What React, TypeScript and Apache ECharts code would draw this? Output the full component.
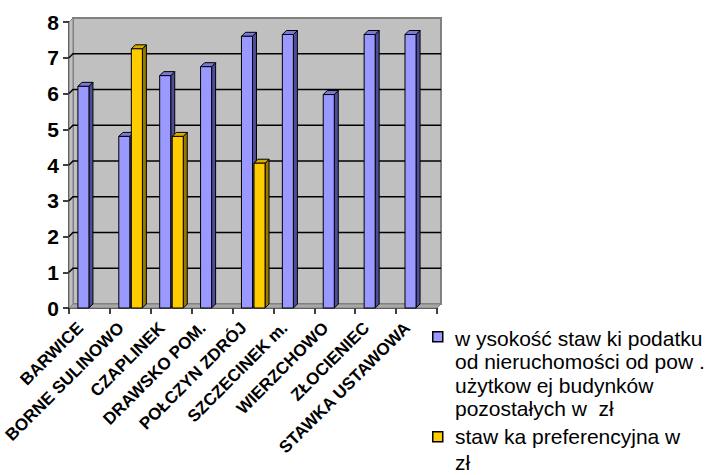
import React, { useEffect, useRef } from "react";
import * as echarts from "echarts";

const categories = [
  "BARWICE",
  "BORNE SULINOWO",
  "CZAPLINEK",
  "DRAWSKO POM.",
  "POŁCZYN ZDRÓJ",
  "SZCZECINEK m.",
  "WIERZCHOWO",
  "ZŁOCIENIEC",
  "STAWKA USTAWOWA",
];
const rateValues = [6.2, 4.8, 6.5, 6.75, 7.6, 7.65, 5.97, 7.65, 7.65];
const preferentialValues: (number | null)[] = [null, 7.25, 4.8, null, 4.05, null, null, null, null];
const yTicks = [0, 1, 2, 3, 4, 5, 6, 7, 8];
const legendRateLines = [
  "w ysokość staw ki podatku",
  "od nieruchomości od pow .",
  "użytkow ej budynków",
  "pozostałych w  zł",
];
const legendPrefLines = ["staw ka preferencyjna w", "zł"];

const DEPTH = 4;

function barRenderer(front: string, side: string, top: string, slot: number) {
  return (params: any, api: any) => {
    const idx = api.value(0);
    const v = api.value(1);
    const base = api.coord([idx, 0]);
    const tp = api.coord([idx, v]);
    const band = api.size([1, 0])[0];
    const bw = band * 0.27;
    const x0 = slot === 0 ? base[0] - bw - 0.5 : base[0] + 1;
    const yT = tp[1];
    const yB = base[1];
    const d = DEPTH;
    return {
      type: "group",
      children: [
        {
          type: "polygon",
          shape: { points: [[x0 + bw, yT], [x0 + bw + d, yT - d], [x0 + bw + d, yB - d], [x0 + bw, yB]] },
          style: { fill: side, stroke: "#000", lineWidth: 1 },
        },
        {
          type: "polygon",
          shape: { points: [[x0, yT], [x0 + d, yT - d], [x0 + bw + d, yT - d], [x0 + bw, yT]] },
          style: { fill: top, stroke: "#000", lineWidth: 1 },
        },
        {
          type: "rect",
          shape: { x: x0, y: yT, width: bw, height: yB - yT },
          style: { fill: front, stroke: "#000", lineWidth: 1 },
        },
      ],
    };
  };
}

function frameRenderer(params: any, api: any) {
  const band = api.size([1, 0])[0];
  const left = api.coord([0, 0])[0] - band / 2;
  const right = api.coord([categories.length - 1, 0])[0] + band / 2;
  const y0 = api.coord([0, yTicks[0]])[1];
  const yMax = api.coord([0, yTicks[yTicks.length - 1]])[1];
  const d = DEPTH;
  const children: any[] = [
    {
      type: "rect",
      shape: { x: left + d, y: yMax - d, width: right - left, height: y0 - yMax },
      style: { fill: "#c0c0c0", stroke: "#808080", lineWidth: 2 },
    },
    {
      type: "polygon",
      shape: { points: [[left, yMax], [left + d, yMax - d], [left + d, y0 - d], [left, y0]] },
      style: { fill: "#c0c0c0", stroke: "#808080", lineWidth: 1 },
    },
    {
      type: "polygon",
      shape: { points: [[left, y0], [left + d, y0 - d], [right + d, y0 - d], [right, y0]] },
      style: { fill: "#a8a8a8", stroke: "#808080", lineWidth: 1 },
    },
  ];
  yTicks.slice(1, yTicks.length - 1).forEach((t) => {
    const y = api.coord([0, t])[1];
    children.push({
      type: "polyline",
      shape: { points: [[left, y], [left + d, y - d], [right + d, y - d]] },
      style: { stroke: "#000", lineWidth: 1.5, fill: null },
    });
  });
  return { type: "group", children };
}

export default function App() {
  const ref = useRef<HTMLDivElement>(null);
  useEffect(() => {
    if (!ref.current) return;
    const chart = echarts.init(ref.current, null, { renderer: "svg" });
    const font = '"Liberation Sans", Arial, sans-serif';
    const rateData = rateValues.map((v, i) => [i, v]);
    const prefData = preferentialValues
      .map((v, i) => (v == null ? null : [i, v]))
      .filter((x) => x !== null);
    chart.setOption({
      animation: false,
      backgroundColor: "#ffffff",
      grid: { left: 69, right: 273, top: 22, bottom: 167, containLabel: false },
      xAxis: {
        type: "category",
        data: categories,
        boundaryGap: true,
        axisLine: { show: true, lineStyle: { color: "#000", width: 1.5 } },
        axisTick: { show: true, length: 6, lineStyle: { color: "#000", width: 1.5 } },
        axisLabel: {
          interval: 0,
          rotate: 45,
          margin: 8,
          padding: [0, 13, 0, 0],
          fontFamily: font,
          fontWeight: "bold",
          fontSize: 17,
          color: "#000",
        },
        splitLine: { show: false },
      },
      yAxis: {
        type: "value",
        min: 0,
        max: 8,
        interval: 1,
        axisLine: { show: true, lineStyle: { color: "#000", width: 1.5 } },
        axisTick: { show: true, length: 6, lineStyle: { color: "#000", width: 1.5 } },
        axisLabel: {
          margin: 10,
          fontFamily: font,
          fontWeight: "bold",
          fontSize: 21,
          color: "#000",
        },
        splitLine: { show: false },
      },
      series: [
        {
          type: "custom",
          name: "frame",
          renderItem: frameRenderer,
          data: [[0, 0]],
          encode: { x: 0, y: 1 },
          silent: true,
          z: 1,
        },
        {
          type: "custom",
          name: legendRateLines.join(" "),
          renderItem: barRenderer("#9999ff", "#4d4d99", "#7a7ad6", 0),
          data: rateData,
          encode: { x: 0, y: 1 },
          z: 2,
        },
        {
          type: "custom",
          name: legendPrefLines.join(" "),
          renderItem: barRenderer("#ffcc00", "#997a00", "#d9ad00", 1),
          data: prefData,
          encode: { x: 0, y: 1 },
          z: 2,
        },
      ],
      graphic: [
        {
          type: "rect",
          left: 432,
          top: 331,
          shape: { width: 10, height: 10 },
          style: { fill: "#9999ff", stroke: "#000", lineWidth: 1.5 },
        },
        {
          type: "text",
          left: 455,
          top: 327,
          style: {
            text: legendRateLines.join("\n"),
            font: `21px ${font}`,
            lineHeight: 23.3,
            fill: "#000",
          },
        },
        {
          type: "rect",
          left: 432,
          top: 431,
          shape: { width: 10, height: 10 },
          style: { fill: "#ffcc00", stroke: "#000", lineWidth: 1.5 },
        },
        {
          type: "text",
          left: 455,
          top: 423,
          style: {
            text: legendPrefLines.join("\n"),
            font: `21px ${font}`,
            lineHeight: 26,
            fill: "#000",
          },
        },
      ],
    });
    return () => chart.dispose();
  }, []);
  return (
    <div
      ref={ref}
      style={{ position: "fixed", left: 0, top: 0, width: 710, height: 475 }}
    />
  );
}
